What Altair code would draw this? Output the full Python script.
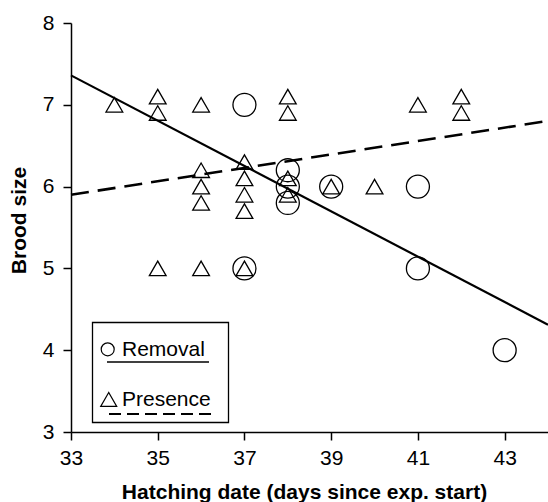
import altair as alt
import pandas as pd

# ---- data ----
removal_x = [37, 38, 38, 38, 39, 41, 37, 41, 43]
removal_y = [7.0, 6.2, 6.0, 5.8, 6.0, 6.0, 5.0, 5.0, 4.0]

presence_x = [34, 35, 35, 36, 38, 38, 41, 42, 42,
              36, 36, 36, 37, 37, 37, 37, 38, 38, 39, 40,
              35, 36, 37]
presence_y = [7.0, 7.1, 6.9, 7.0, 7.1, 6.9, 7.0, 7.1, 6.9,
              6.2, 6.0, 5.8, 6.3, 6.1, 5.9, 5.7, 6.1, 5.9, 6.0, 6.0,
              5.0, 5.0, 5.0]

x_ticks = [33, 35, 37, 39, 41, 43]
y_ticks = [3, 4, 5, 6, 7, 8]
x_domain = [33, 44]
y_domain = [3, 8]
legend_labels = ["Removal", "Presence"]

removal = pd.DataFrame({"date": removal_x, "brood": removal_y})
presence = pd.DataFrame({"date": presence_x, "brood": presence_y})

FONT = "Liberation Sans"
W, H = 477, 409

x_enc = alt.X("date:Q", scale=alt.Scale(domain=x_domain, nice=False, zero=False),
              axis=alt.Axis(values=x_ticks, title="Hatching date (days since exp. start)",
                            labelPadding=7, titleX=233, titleY=66,
                            titleBaseline="alphabetic", titleAlign="center"))
y_enc = alt.Y("brood:Q", scale=alt.Scale(domain=y_domain, nice=False, zero=False),
              axis=alt.Axis(values=y_ticks, title="Brood size", labelPadding=9,
                            titleX=-46, titleY=197, titleAngle=270,
                            titleBaseline="alphabetic", titleAlign="center"))

removal_pts = alt.Chart(removal).mark_point(
    shape="circle", filled=False, size=529, color="black", strokeWidth=1.3, opacity=1
).encode(x=x_enc, y=y_enc)

presence_pts = alt.Chart(presence).mark_point(
    shape="triangle-up", filled=False, size=280, color="black", strokeWidth=1.3, opacity=1
).encode(x=x_enc, y=y_enc)

removal_fit = alt.Chart(removal).transform_regression(
    "date", "brood", extent=x_domain
).mark_line(color="black", strokeWidth=2.2).encode(x=x_enc, y=y_enc)

presence_fit = alt.Chart(presence).transform_regression(
    "date", "brood", extent=x_domain
).mark_line(color="black", strokeWidth=2.6, strokeDash=[18, 9]).encode(x=x_enc, y=y_enc)

# ---- hand-drawn legend box ----
one = alt.Data(values=[{"a": 1}])
leg_box = alt.Chart(one).mark_rect(fill="white", stroke="black", strokeWidth=1.3).encode(
    x=alt.value(21.5), x2=alt.value(157.5), y=alt.value(299.5), y2=alt.value(399.5))
leg_circle = alt.Chart(one).mark_point(
    shape="circle", filled=False, size=169, color="black", strokeWidth=1.2, opacity=1
).encode(x=alt.value(36.7), y=alt.value(326.3))
leg_tri = alt.Chart(one).mark_point(
    shape="triangle-up", filled=False, size=256, color="black", strokeWidth=1.2, opacity=1
).encode(x=alt.value(37.7), y=alt.value(376.5))
leg_text1 = alt.Chart(one).mark_text(
    text=legend_labels[0], font=FONT, fontSize=21, align="left", baseline="alphabetic", color="black"
).encode(x=alt.value(51), y=alt.value(333))
leg_text2 = alt.Chart(one).mark_text(
    text=legend_labels[1], font=FONT, fontSize=21, align="left", baseline="alphabetic", color="black"
).encode(x=alt.value(51), y=alt.value(382.5))
leg_line1 = alt.Chart(one).mark_rule(color="black", strokeWidth=1.7).encode(
    x=alt.value(36), x2=alt.value(138), y=alt.value(339))
leg_line2 = alt.Chart(one).mark_rule(color="black", strokeWidth=2.2, strokeDash=[12, 6]).encode(
    x=alt.value(38), x2=alt.value(141), y=alt.value(391))

chart = alt.layer(
    removal_fit, presence_fit, removal_pts, presence_pts,
    leg_box, leg_line1, leg_line2, leg_circle, leg_tri, leg_text1, leg_text2
).properties(
    width=W, height=H,
    padding={"left": 71, "top": 23, "right": 0, "bottom": 70},
    autosize=alt.AutoSizeParams(type="none"),
    background="white",
).configure_view(stroke=None).configure_axis(
    grid=False, domainColor="black", domainWidth=1.5, tickColor="black", tickWidth=1.5,
    tickSize=8, labelFont=FONT, labelFontSize=21, labelColor="black",
    titleFont=FONT, titleFontSize=21, titleFontWeight="bold", titleColor="black",
    labelFlush=False, labelOverlap=False
)

chart.save("out.html", embed_options={"renderer": "svg", "actions": False})
